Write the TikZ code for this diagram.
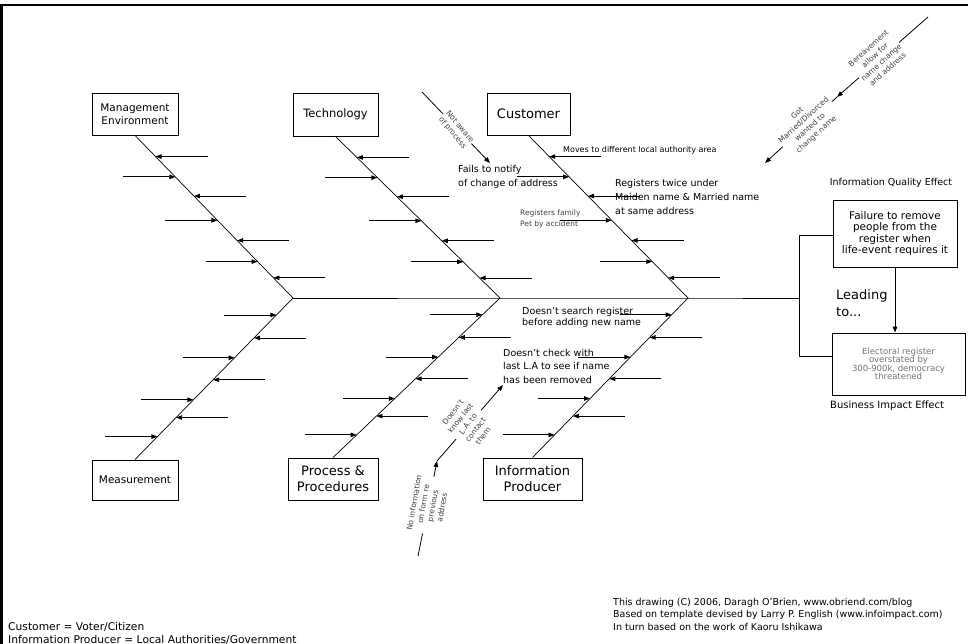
\documentclass[tikz,border=0pt]{standalone}
\usepackage{fontspec}
\setmainfont{DejaVu Sans}
\usetikzlibrary{arrows.meta,calc}
\newcommand\fs[2]{\fontsize{#1}{#2}\selectfont}
\begin{document}
\begin{tikzpicture}[x=1pt,y=-1pt,
 bone/.style={line width=0.7pt},
 arr/.style={line width=0.8pt,-{Triangle[length=6pt,width=4.5pt]}},
 catbox/.style={draw,line width=0.9pt,align=center,inner sep=0pt},
 note/.style={align=left,inner sep=0pt,anchor=west},
 rot/.style={align=center,inner sep=1pt,fill=white,text=black!75,font=\fs{7.5}{9.5}},
]
\useasboundingbox (0,0) rectangle (968,644);
% frame
\draw[line width=2.5pt] (0,5) -- (968,5);
\draw[line width=2.5pt] (1.25,5) -- (1.25,644);

% category boxes
\node[catbox,minimum width=86pt,minimum height=42pt,font=\fs{10.5}{13}] (mgmt) at (135,114) {Management\\Environment};
\node[catbox,minimum width=85pt,minimum height=43pt,font=\fs{11.5}{14}] (tech) at (335.5,114.5) {Technology};
\node[catbox,minimum width=83pt,minimum height=42pt,font=\fs{13}{15}] (cust) at (528.5,114) {Customer};
\node[catbox,minimum width=86pt,minimum height=40pt,font=\fs{10.5}{13}] (meas) at (135,480) {Measurement};
\node[catbox,minimum width=90pt,minimum height=42pt,font=\fs{13}{16}] (proc) at (333,479) {Process \&\\Procedures};
\node[catbox,minimum width=99pt,minimum height=42pt,font=\fs{13}{16}] (info) at (532.5,479) {Information\\Producer};

% forks
\coordinate (fA) at (293,298);
\coordinate (fB) at (500,298);
\coordinate (fC) at (688,298);
\coordinate (sE) at (799,298);

% bones and spine
\draw[bone] (mgmt.south) -- (fA) -- (meas.north);
\draw[bone] (tech.south) -- (fB) -- (proc.north);
\draw[bone] (cust.south) -- (fC) -- (info.north);
\draw[bone] (fA) -- (fB) -- (fC) -- (sE);

% sub-cause arrows, upper bones
\foreach \top/\fk in {mgmt/fA,tech/fB,cust/fC}{
  \foreach \f/\s in {0.13/1,0.255/-1,0.373/1,0.522/-1,0.646/1,0.776/-1,0.876/1}{
    \draw[arr] ($(\top.south)!\f!(\fk)+(\s*52,0)$) -- ($(\top.south)!\f!(\fk)$);
  }
}
% sub-cause arrows, lower bones
\foreach \bot/\fk in {meas/fA,proc/fB,info/fC}{
  \foreach \f/\s in {0.105/-1,0.247/1,0.37/-1,0.506/1,0.63/-1,0.74/1,0.858/-1}{
    \draw[arr] ($(\fk)!\f!(\bot.north)+(\s*52,0)$) -- ($(\fk)!\f!(\bot.north)$);
  }
}

% notes on customer bone
\node[note,font=\fs{8}{9}] (n1) at (563,150) {Moves to different local authority area};
\node[note,font=\fs{9.5}{14}] (n2) at (458,177) {Fails to notify\\of change of address};
\node[note,font=\fs{9.5}{14}] (n3) at (615,197) {Registers twice under\\Maiden name \& Married name\\at same address};
\node[note,font=\fs{7.5}{11},text=black!75] (n4) at (520,218.5) {Registers family\\Pet by accident};
% notes on information producer bone
\node[note,font=\fs{9.5}{11}] (n5) at (522,317.5) {Doesn't search register\\before adding new name};
\node[note,font=\fs{9.5}{13.5}] (n6) at (503,366) {Doesn't check with\\last L.A to see if name\\has been removed};

% rotated annotation chains
\coordinate (tr0) at (928,17);
\coordinate (tr1) at (837,97);
\coordinate (tr2) at (765,163);
\draw[arr] (tr0) -- (tr1);
\draw[arr] (tr1) -- (tr2);
\node[rot,rotate=42] (t1) at (878,59) {Bereavement\\allow for\\name change\\and address};
\node[rot,rotate=42] (t2) at (807,124) {Got\\Married/Divorced\\wanted to\\change name};

\coordinate (c0) at (422,92);
\coordinate (c1) at (490,163);
\draw[arr] (c0) -- (c1);
\node[rot,rotate=-50] (t3) at (456,130) {Not aware\\of process};

\coordinate (p0) at (418,556);
\coordinate (p1) at (437,461);
\coordinate (p2) at (503,385);
\draw[arr] (p0) -- (p1);
\draw[arr] (p1) -- (p2);
\node[rot,rotate=80] (t4) at (428,505) {No information\\on form re\\previous\\address};
\node[rot,rotate=52] (t5) at (468,424) {Doesn't\\know last\\L.A. to\\contact\\them};

% effect boxes
\node[draw,line width=0.9pt,minimum width=124pt,minimum height=67pt,align=center,inner sep=0pt,font=\fs{10.5}{11.5}] (iqe) at (895,233.5) {Failure to remove\\people from the\\register when\\life-event requires it};
\node[draw,line width=0.9pt,minimum width=133pt,minimum height=62pt,align=center,inner sep=0pt,text=black!55,font=\fs{8.5}{8.5}] (bie) at (898.5,364) {Electoral register\\overstated by\\300-900k, democracy\\threatened};
\node[font=\fs{9.5}{11},inner sep=0pt] (iqel) at (891,183) {Information Quality Effect};
\node[anchor=west,font=\fs{10}{11},inner sep=0pt] (biel) at (830,406) {Business Impact Effect};
\node[anchor=west,align=left,font=\fs{13}{17},inner sep=0pt] (lead) at (836,303.5) {Leading\\to...};

\coordinate (cT) at (799,235);
\coordinate (cB) at (799,356);
\draw[bone] (cT) -- (cB);
\draw[bone] (cT) -- (cT -| iqe.west);
\draw[bone] (cB) -- (cB -| bie.west);
\draw[arr] (iqe.south) -- (iqe.south |- bie.north);

% footnotes
\node[anchor=north west,align=left,inner sep=0pt,font=\fs{10.7}{13}] (legend) at (8,622) {Customer = Voter/Citizen\\Information Producer = Local Authorities/Government};
\node[anchor=north west,align=left,inner sep=0pt,font=\fs{9.5}{12.5}] (credit) at (613,598) {This drawing (C) 2006, Daragh O'Brien, www.obriend.com/blog\\Based on template devised by Larry P. English (www.infoimpact.com)\\In turn based on the work of Kaoru Ishikawa};
\end{tikzpicture}
\end{document}
